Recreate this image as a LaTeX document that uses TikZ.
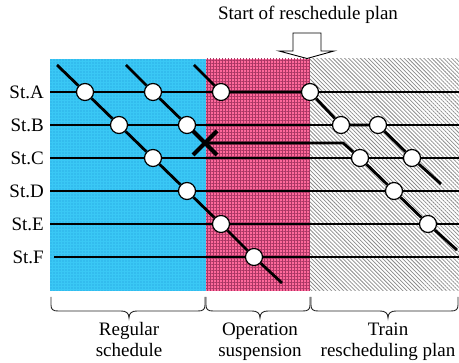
\documentclass[tikz,border=0pt]{standalone}
\usepackage{fontspec}
\setmainfont{Liberation Serif}
\usetikzlibrary{patterns.meta}

\definecolor{regbase}{RGB}{58,200,245}
\definecolor{regdots}{RGB}{30,150,215}
\definecolor{susbase}{RGB}{255,105,155}
\definecolor{susgrid}{RGB}{170,55,100}

% a curly bracket under a time span: left end, tip, right end
\newcommand\timebrace[3]{%
  \draw[bracket] (#1,297) -- (#1,305) .. controls (#1,309.5) and (#1+2,311) .. (#1+7,311)
    -- (#2-8,311) .. controls (#2-3,311) and (#2,313) .. (#2,318)
    .. controls (#2,313) and (#2+3,311) .. (#2+8,311)
    -- (#3-7,311) .. controls (#3-2,311) and (#3,309.5) .. (#3,305) -- (#3,297);}

\begin{document}
\begin{tikzpicture}[x=1pt,y=-1pt,
  lbl/.style={font=\fontsize{19}{21}\selectfont, inner sep=0pt},
  rail/.style={line width=1.1pt, black},
  train/.style={line width=2.8pt, black},
  stop/.style={circle, draw=black, line width=1.2pt, fill=white,
               minimum size=17pt, inner sep=0pt},
  cancel/.style={line width=4.2pt, black},
  bracket/.style={line width=0.9pt, black!85},
  regular/.style={pattern={Dots[distance=3pt,radius=0.55pt]},
    pattern color=regdots},
  suspend/.style={pattern={Hatch[angle=0,distance=3pt,line width=0.4pt]},
    pattern color=susgrid},
  replan/.style={pattern={Lines[angle=-45,distance=2.8pt,line width=0.75pt]},
    pattern color=black!45},
]
\useasboundingbox (0,0) rectangle (459,363);

% time periods: base colour, then texture on top
\fill[regbase] (50,59) rectangle (206,291);
\fill[regular] (50,59) rectangle (206,291);
\fill[susbase] (206,59) rectangle (310,291);
\fill[suspend] (206,59) rectangle (310,291);
\fill[white]   (310,59) rectangle (459,291);
\fill[replan]  (310,59) rectangle (459,291);

% stations
\foreach \s/\y/\x in {A/92/50, B/125/50, C/158/50, D/191/50, E/224/50, F/257/54} {
  \node[lbl, anchor=base east] (st\s) at (44,\y+7) {St.\s};
  \coordinate (w\s) at (\x,\y);
  \coordinate (e\s) at (459,\y);
  \draw[rail] (w\s) -- (e\s);
}

% stops
\node[stop] (p1a) at (85,92) {};
\node[stop] (p1b) at (119,125) {};
\node[stop] (p1c) at (153,158) {};
\node[stop] (p1d) at (187,191) {};
\node[stop] (p1e) at (221,224) {};
\node[stop] (p1f) at (254,257) {};
\node[stop] (p2a) at (153,92) {};
\node[stop] (p2b) at (187,125) {};
\node[stop] (p2c) at (360,158) {};
\node[stop] (p2d) at (394,191) {};
\node[stop] (p2e) at (428,224) {};
\node[stop] (p3a) at (221,92) {};
\node[stop] (p3aa) at (310,92) {};
\node[stop] (p3b) at (341,125) {};
\node[stop] (p3bb) at (378,125) {};
\node[stop] (p3c) at (412,158) {};

\coordinate (s1) at (57,65);
\coordinate (f1) at (282,283);
\coordinate (s2) at (126,65);
\coordinate (x2) at (205,143);
\coordinate (k2) at (343,143);
\coordinate (f2) at (457,250);
\coordinate (s3) at (194,65);
\coordinate (f3) at (441,184);

% train paths
\draw[train] (s1) -- (p1a) -- (p1b) -- (p1c) -- (p1d) -- (p1e) -- (p1f) -- (f1);
\draw[train] (s2) -- (p2a) -- (p2b) -- (x2);
\draw[train] (x2) -- (k2) -- (p2c) -- (p2d) -- (p2e) -- (f2);
\draw[train] (s3) -- (p3a) -- (p3aa) -- (p3b) -- (p3bb) -- (p3c) -- (f3);

% suspension mark
\draw[cancel] (193,131) -- (217,155);
\draw[cancel] (217,131) -- (193,155);

% start of the new plan
\node[lbl, anchor=base] (start) at (308,19.5) {Start of reschedule plan};
\draw[line width=0.9pt, fill=white] (293,33) -- (321,33) -- (321,51) -- (334,51)
  -- (307,58.5) -- (279,51) -- (293,51) -- cycle;

% periods
\timebrace{51}{129}{205}
\timebrace{206}{260}{310}
\timebrace{311}{388}{458}
\node[lbl, anchor=base] (r1) at (129,336) {Regular};
\node[lbl, anchor=base] (r2) at (129,357) {schedule};
\node[lbl, anchor=base] (o1) at (260,336) {Operation};
\node[lbl, anchor=base] (o2) at (260,357) {suspension};
\node[lbl, anchor=base] (t1) at (388,336) {Train};
\node[lbl, anchor=base] (t2) at (388,357) {rescheduling plan};
\end{tikzpicture}
\end{document}
